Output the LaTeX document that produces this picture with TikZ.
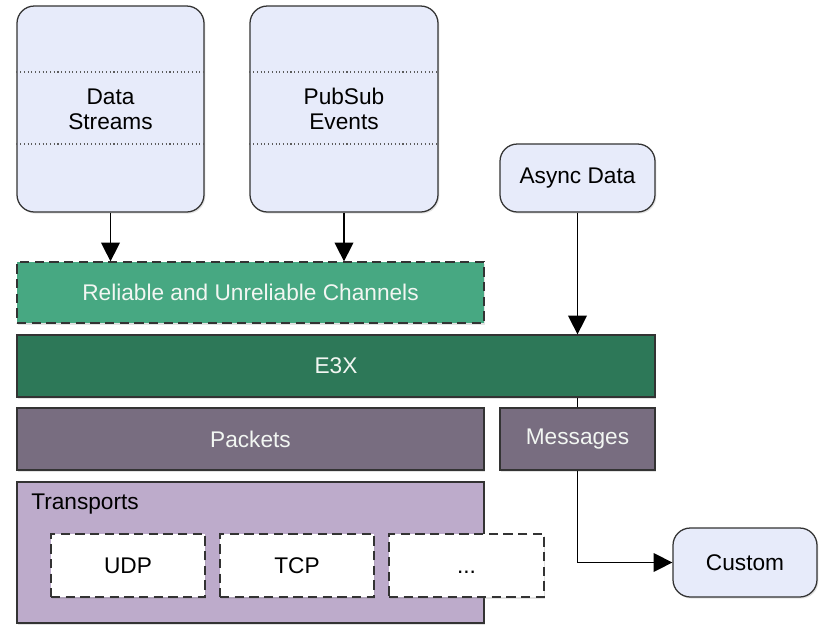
\documentclass[tikz,border=0pt]{standalone}
\usepackage{fontspec}
\setmainfont{Liberation Sans}
\usetikzlibrary{arrows.meta,shadows}
\definecolor{lblue}{HTML}{E7EBFA}
\definecolor{relg}{HTML}{47A882}
\definecolor{e3xg}{HTML}{2D7858}
\definecolor{pkt}{HTML}{786D80}
\definecolor{trp}{HTML}{BDABCB}
\definecolor{edge}{HTML}{333333}
\definecolor{ltxt}{HTML}{F2F6F2}
\tikzset{
  x=0.75pt, y=-0.75pt,
  base/.style={draw=edge, line width=0.95pt, align=center, inner sep=0pt,
    font=\fontsize{17}{19}\selectfont,
    drop shadow={shadow xshift=1pt, shadow yshift=-1.2pt, opacity=0.22}},
  srcbox/.style={base, fill=lblue, rounded corners=13pt, text=black},
  relbox/.style={base, fill=relg, dash pattern=on 7pt off 4pt, text=ltxt},
  e3xbox/.style={base, fill=e3xg, text=ltxt},
  pktbox/.style={base, fill=pkt, text=ltxt},
  trbox/.style={base, fill=trp},
  tpbox/.style={base, fill=white, dash pattern=on 7pt off 4pt, text=black},
  sep/.style={draw=edge!80, line width=0.8pt, dotted},
  arr/.style={draw=black, line width=1pt, -{Triangle[width=14pt,length=14pt]}},
  lnk/.style={draw=black, line width=1pt}
}
\begin{document}
\begin{tikzpicture}
\useasboundingbox (0,0) rectangle (819,626);
\fill[white] (0,0) rectangle (819,626);

\node[srcbox, minimum width=187*0.75pt, minimum height=206*0.75pt] (ds) at (110.5,109) {Data\\Streams};
\node[srcbox, minimum width=188*0.75pt, minimum height=206*0.75pt] (ps) at (344,109) {PubSub\\Events};
\node[srcbox, minimum width=155*0.75pt, minimum height=68*0.75pt] (ad) at (577.5,178) {Async Data};

\draw[sep] (ds.west |- 0,72) -- (ds.east |- 0,72);
\draw[sep] (ds.west |- 0,144) -- (ds.east |- 0,144);
\draw[sep] (ps.west |- 0,72) -- (ps.east |- 0,72);
\draw[sep] (ps.west |- 0,144) -- (ps.east |- 0,144);

\node[relbox, minimum width=467*0.75pt, minimum height=61*0.75pt] (rel) at (250.5,292.5) {Reliable and Unreliable Channels};
\node[e3xbox, minimum width=638*0.75pt, minimum height=62*0.75pt] (e3x) at (336,366) {E3X};
\node[pktbox, minimum width=467*0.75pt, minimum height=62*0.75pt] (pk) at (250.5,439) {Packets};
\node[pktbox, minimum width=155*0.75pt, minimum height=62*0.75pt] (msg) at (577.5,439) {Messages};
\node[trbox, minimum width=467*0.75pt, minimum height=141*0.75pt] (tr) at (250.5,552.5) {};
\node[anchor=base west, inner sep=0pt, font=\fontsize{17}{19}\selectfont] (trl) at (31,509) {Transports};

\node[tpbox, minimum width=154*0.75pt, minimum height=63*0.75pt] (udp) at (128,565.5) {UDP};
\node[tpbox, minimum width=154*0.75pt, minimum height=63*0.75pt] (tcp) at (297,565.5) {TCP};
\node[tpbox, minimum width=155*0.75pt, minimum height=63*0.75pt] (more) at (466.5,565.5) {\vphantom{UDP}...};

\node[srcbox, minimum width=144*0.75pt, minimum height=69*0.75pt] (cu) at (745,562.5) {Custom};

\draw[arr] (ds.south) -- (ds.south |- rel.north);
\draw[arr] (ps.south) -- (ps.south |- rel.north);
\draw[arr] (ad.south) -- (ad.south |- e3x.north);
\draw[lnk] (msg.north) -- (msg.north |- e3x.south);
\draw[arr] (msg.south) |- (cu.west);
\end{tikzpicture}
\end{document}
